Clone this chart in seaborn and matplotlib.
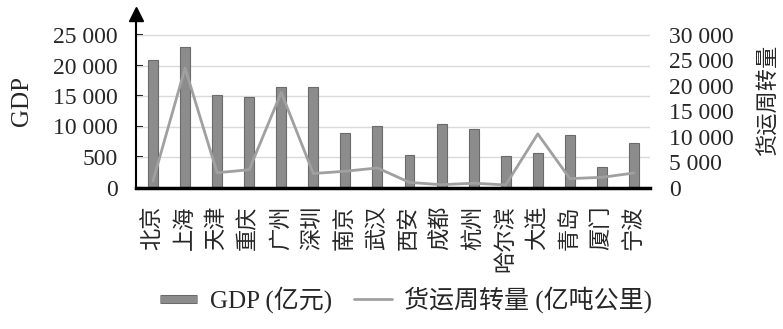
import matplotlib
matplotlib.use("Agg")
import matplotlib.pyplot as plt
import seaborn as sns
import pandas as pd
from matplotlib.lines import Line2D
import matplotlib.patheffects as pe

cities = ["北京", "上海", "天津", "重庆", "广州", "深圳", "南京", "武汉",
          "西安", "成都", "杭州", "哈尔滨", "大连", "青岛", "厦门", "宁波"]
gdp = [20900, 23100, 15100, 14800, 16500, 16500, 8900, 10150,
       5400, 10400, 9600, 5200, 5700, 8550, 3350, 7250]
freight = [1300, 23500, 2900, 3500, 18700, 2750, 3200, 3850,
           1000, 550, 850, 500, 10550, 1750, 2000, 2850]
left_ticks = [0, 5000, 10000, 15000, 20000, 25000]
left_labels = ["0", "500", "10 000", "15 000", "20 000", "25 000"]
right_ticks = [0, 5000, 10000, 15000, 20000, 25000, 30000]
right_labels = ["0", "5 000", "10 000", "15 000", "20 000", "25 000", "30 000"]
gdp_label = "GDP (亿元)"
freight_label = "货运周转量 (亿吨公里)"

sns.set_theme(style="white")
fams = ["Liberation Serif", "Noto Sans CJK SC", "DejaVu Sans"]
plt.rcParams["font.family"] = fams

df = pd.DataFrame({"city": cities, "gdp": gdp, "freight": freight})

W, H = 783, 329
fig = plt.figure(figsize=(W / 100, H / 100), dpi=100)
ax_l, ax_r = 136 / W, 650 / W
ax_b, ax_t = 1 - 187.5 / H, 1 - 14 / H
ax = fig.add_axes([ax_l, ax_b, ax_r - ax_l, ax_t - ax_b])

bar_color = "#8c8c8c"
line_color = "#a0a0a0"
sns.barplot(data=df, x="city", y="gdp", ax=ax, color=bar_color, width=0.31,
            saturation=1, edgecolor="#6a6a6a", linewidth=0.8, zorder=3)
ax.set_xlim(-0.53, 15.5)
ylim_top = 25000 * (187.5 - 14) / (187.5 - 35)
ax.set_ylim(0, ylim_top)
ax.set_yticks(left_ticks)
ax.set_yticklabels(left_labels, fontsize=17)
for y in left_ticks[1:]:
    ax.axhline(y, color="#dadada", lw=1.0, zorder=1)
ax.tick_params(axis="y", direction="in", length=5, width=1.5, color="black",
               pad=13, left=True)
ax.tick_params(axis="x", length=0, pad=13)
ax.set_xticks(range(len(cities)))
ax.set_xticklabels(cities, rotation=90, fontsize=16, va="top", ha="center")
ax.set_xlabel("")
ax.set_ylabel("GDP", fontsize=18)
ax.yaxis.set_label_coords((33 - 136) / (650 - 136), 0.5)
for s in ["top", "right"]:
    ax.spines[s].set_visible(False)
ax.spines["left"].set_color("black")
ax.spines["left"].set_linewidth(1.5)
ax.spines["bottom"].set_color("black")
ax.spines["bottom"].set_linewidth(2.5)
ax.spines["bottom"].set_zorder(5)
ax.plot([0], [1.0], marker="^", markersize=10, color="black",
        transform=ax.transAxes, clip_on=False, zorder=6)

ax2 = ax.twinx()
sns.lineplot(data=df, x="city", y="freight", ax=ax2, color=line_color,
             linewidth=2, sort=False)
ax2.set_ylim(0, ylim_top * 30000 / 25000)
ax2.set_xlim(-0.53, 15.5)
ax2.set_yticks(right_ticks)
ax2.set_yticklabels(right_labels, fontsize=17)
ax2.tick_params(axis="y", length=0, pad=14)
ax2.set_ylabel("货运周转量", fontsize=16, rotation=90)
ax2.yaxis.set_label_coords((759 - 136) / (650 - 136), 0.5)
for s in ["top", "right", "left", "bottom"]:
    ax2.spines[s].set_visible(False)
ax2.grid(False)

bar_handle = Line2D([0], [0], color=bar_color, lw=5, solid_capstyle="butt",
                    path_effects=[pe.Stroke(linewidth=6.5, foreground="#6a6a6a"),
                                  pe.Normal()])
handles = [bar_handle, Line2D([0], [0], color=line_color, lw=2)]
leg = fig.legend(handles, [gdp_label, freight_label], loc="center",
                 bbox_to_anchor=(406 / W, 1 - 300 / H), ncol=2, frameon=False,
                 fontsize=18, handlelength=1.5, handletextpad=0.5,
                 columnspacing=0.9)

fig.savefig("out.png", dpi=100)
